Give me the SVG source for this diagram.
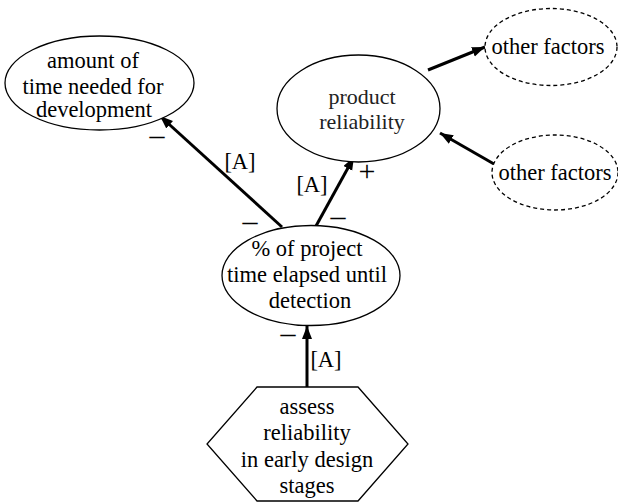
<svg xmlns="http://www.w3.org/2000/svg" width="618" height="502" viewBox="0 0 618 502">
<style>
.t{font-family:'Liberation Serif','Times New Roman',Times,serif;font-size:22.5px;fill:#000;text-anchor:middle}
.s{font-size:30px}
.g{font-size:22px;fill:#222}
.node{fill:#fff;stroke:#000;stroke-width:1.3}
.dash{fill:#fff;stroke:#000;stroke-width:1.3;stroke-dasharray:4 3}
.arr{stroke:#000;stroke-width:3;fill:none;marker-end:url(#ah)}
</style>
<defs>
<marker id="ah" markerUnits="userSpaceOnUse" markerWidth="14" markerHeight="12" refX="13" refY="5" orient="auto">
<path d="M0,0 L13,5 L0,10 z" fill="#000"/>
</marker>
</defs>
<rect width="618" height="502" fill="#fff"/>
<g id="connectors">
<line class="arr" x1="282" y1="227" x2="160" y2="116"/>
<line class="arr" x1="316" y1="226" x2="354" y2="157"/>
<line class="arr" x1="428" y1="70" x2="485" y2="47"/>
<line class="arr" x1="494" y1="164" x2="440" y2="133"/>
<line class="arr" x1="307" y1="387" x2="307" y2="326"/>
<text class="t s" x="157" y="145">–</text>
<text class="t" x="240" y="169">[A]</text>
<text class="t s" x="250" y="231">–</text>
<text class="t" x="312" y="192">[A]</text>
<text class="t s" x="367" y="181">+</text>
<text class="t s" x="338" y="226">–</text>
<text class="t s" x="288" y="343">–</text>
<text class="t" x="326" y="367">[A]</text>
</g>
<g id="amount">
<ellipse class="node" cx="99.5" cy="83" rx="94.5" ry="47"/>
<text class="t" x="93" y="68">amount of</text>
<text class="t" x="93" y="94">time needed for</text>
<text class="t" x="94" y="117">development</text>
</g>
<g id="reliability">
<ellipse class="node" cx="358.5" cy="108.5" rx="81.5" ry="53.5"/>
<text class="t g" x="362" y="104">product</text>
<text class="t g" x="362" y="129">reliability</text>
</g>
<g id="other1">
<ellipse class="dash" cx="551" cy="47" rx="66" ry="38.5"/>
<text class="t" x="548" y="54">other factors</text>
</g>
<g id="other2">
<ellipse class="dash" cx="555" cy="172.5" rx="63" ry="37.5"/>
<text class="t" x="555" y="180">other factors</text>
</g>
<g id="elapsed">
<ellipse class="node" cx="311" cy="275.5" rx="89" ry="50"/>
<text class="t" x="307" y="256">% of project</text>
<text class="t" x="307" y="282">time elapsed until</text>
<text class="t" x="310" y="308">detection</text>
</g>
<g id="assess">
<polygon class="node" points="257,387 358,387 408,444 358,501 257,501 207,444"/>
<text class="t" x="307" y="414">assess</text>
<text class="t" x="307" y="440">reliability</text>
<text class="t" x="307" y="467">in early design</text>
<text class="t" x="307" y="493">stages</text>
</g>
</svg>
